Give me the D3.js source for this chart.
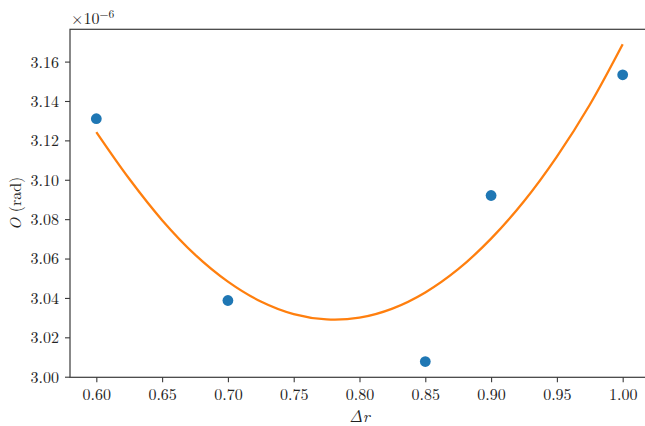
<!DOCTYPE html>
<html><head><meta charset="utf-8">
<script src="https://cdn.jsdelivr.net/npm/d3@7"></script>
<style>
body{margin:0;background:#fff;}
</style></head>
<body><svg id="c" width="645" height="426"></svg>
<script>
// Measured points (x = Δr, y in units of 1e-6 rad)
const pointX = [0.60, 0.70, 0.85, 0.90, 1.00];
const pointY = [3.1310, 3.0387, 3.0077, 3.0920, 3.1533];
// Fitted curve
const curveX = [0.600,0.625,0.650,0.675,0.700,0.725,0.750,0.775,0.800,0.825,0.850,0.875,0.900,0.925,0.950,0.975,1.000];
const curveY = [3.1242,3.1005,3.0795,3.0620,3.0483,3.0382,3.0318,3.0291,3.0300,3.0346,3.0428,3.0546,3.0701,3.0891,3.1118,3.1381,3.1688];
const xTicks = [0.60,0.65,0.70,0.75,0.80,0.85,0.90,0.95,1.00];
const yTicks = [3.00,3.02,3.04,3.06,3.08,3.10,3.12,3.14,3.16];

const FONT = "'CMU Serif','Latin Modern Roman','Liberation Serif',serif";
const svg = d3.select("#c");
const L=70, R=649, T=29.3, B=377.3;
const x = d3.scaleLinear().domain([0.58,1.02]).range([L,R]);
const y = d3.scaleLinear().domain([2.9997,3.1764]).range([B,T]);

const axisColor="#3a3a3a";
const gx = svg.append("g").attr("transform",`translate(0,${B})`)
  .call(d3.axisBottom(x).tickValues(xTicks).tickFormat(d3.format(".2f")).tickSizeOuter(0).tickSize(5).tickPadding(5));
const gy = svg.append("g").attr("transform",`translate(${L},0)`)
  .call(d3.axisLeft(y).tickValues(yTicks).tickFormat(d3.format(".2f")).tickSizeOuter(0).tickSize(5).tickPadding(6));
[gx,gy].forEach(g=>{
  g.attr("font-family",null).attr("font-size",null);
  g.select(".domain").remove();
  g.selectAll(".tick line").attr("stroke",axisColor).attr("stroke-width",1.1);
  g.selectAll(".tick text").style("font-family",FONT).style("font-size","16px").attr("fill","#222");
});
gy.selectAll(".tick text").attr("dy","0.34em");
gx.selectAll(".tick text").attr("dy","0.78em");
svg.append("rect").attr("x",L).attr("y",T).attr("width",R-L).attr("height",B-T)
  .attr("fill","none").attr("stroke",axisColor).attr("stroke-width",1.2);

const line = d3.line().x(d=>x(d[0])).y(d=>y(d[1])).curve(d3.curveCatmullRom);
svg.append("path").datum(curveX.map((v,i)=>[v,curveY[i]]))
  .attr("d",line).attr("fill","none").attr("stroke","#ff7f0e").attr("stroke-width",2.3);

svg.selectAll("circle.pt").data(pointX.map((v,i)=>[v,pointY[i]])).enter().append("circle")
  .attr("class","pt").attr("cx",d=>x(d[0])).attr("cy",d=>y(d[1])).attr("r",5.4).attr("fill","#1f77b4");

const off = svg.append("text").attr("x",L+1).attr("y",24).style("font-family",FONT).style("font-size","16px").attr("fill","#222");
off.append("tspan").text("×10");
off.append("tspan").attr("dy",-6).style("font-size","11.5px").text("−6");

const xl = svg.append("text").attr("x",(L+R)/2).attr("y",421.5).attr("text-anchor","middle")
  .style("font-family",FONT).style("font-size","16.5px").attr("fill","#222");
xl.append("tspan").style("font-style","italic").text("Δr");

const yl = svg.append("text").attr("transform",`translate(21,${(T+B)/2}) rotate(-90)`).attr("text-anchor","middle")
  .style("font-family",FONT).style("font-size","16px").attr("fill","#222");
yl.append("tspan").style("font-style","italic").text("O");
yl.append("tspan").text(" (rad)");
</script></body></html>
